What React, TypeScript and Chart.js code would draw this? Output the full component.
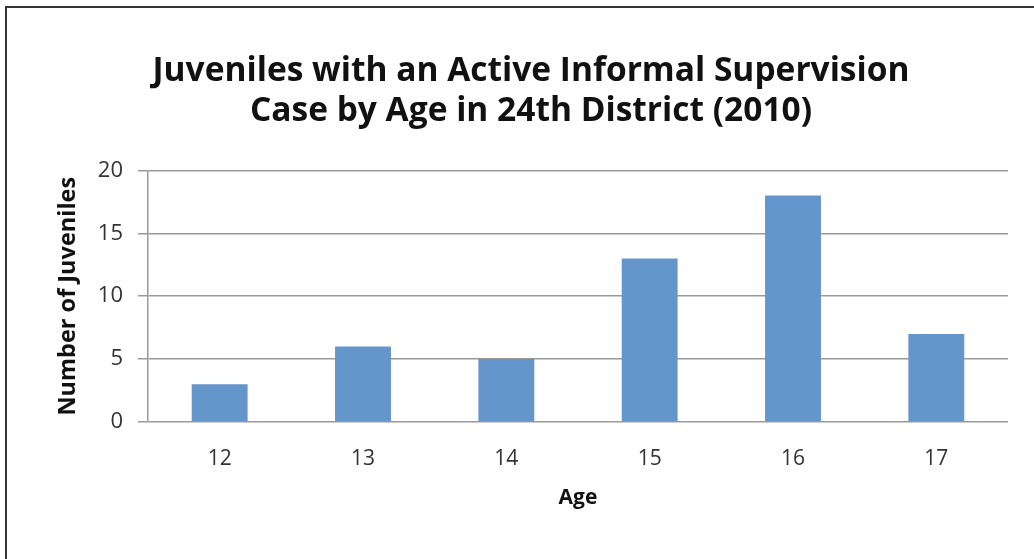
import React, { useEffect, useRef } from "react";
import { Chart, registerables } from "chart.js";

Chart.register(...registerables);

const ages = ["12", "13", "14", "15", "16", "17"];
const juvenileCounts = [3, 6, 5, 13, 18, 7];
const titleLines = [
  "Juveniles with an Active Informal Supervision",
  "Case by Age in 24th District (2010)",
];

const FONT = "'Open Sans', Lato, sans-serif";

export default function App() {
  const canvasRef = useRef<HTMLCanvasElement | null>(null);

  useEffect(() => {
    const canvas = canvasRef.current;
    if (!canvas) return;
    const chart = new Chart(canvas, {
      type: "bar",
      data: {
        labels: ages,
        datasets: [
          {
            label: "Number of Juveniles",
            data: juvenileCounts,
            backgroundColor: "#6496cb",
            borderWidth: 0,
            barPercentage: 0.39,
            categoryPercentage: 1,
          },
        ],
      },
      options: {
        responsive: false,
        animation: false,
        layout: { padding: { left: 54, right: 26, top: 51, bottom: 30 } },
        plugins: {
          legend: { display: false },
          tooltip: { enabled: false },
          title: {
            display: true,
            text: titleLines,
            color: "#111",
            font: { family: FONT, size: 33.5, weight: "bold", lineHeight: 1.2 },
            padding: { top: 0, bottom: 39 },
          },
        },
        scales: {
          x: {
            grid: { display: false, drawTicks: false },
            border: { display: false },
            ticks: {
              color: "#333",
              font: { family: FONT, size: 21 },
              padding: 24,
            },
            title: {
              display: true,
              text: "Age",
              color: "#111",
              font: { family: FONT, size: 21, weight: "bold" },
              padding: { top: 0, bottom: 18 },
            },
            afterFit: (scale: any) => {
              scale.height = 107;
            },
          },
          y: {
            min: 0,
            max: 20,
            ticks: {
              stepSize: 5,
              color: "#333",
              font: { family: FONT, size: 22 },
              padding: 15,
            },
            grid: {
              color: "#9a9a9a",
              lineWidth: 1.5,
              tickLength: 10,
            },
            border: { display: true, color: "#9a9a9a", width: 1.5 },
            title: {
              display: true,
              text: "Number of Juveniles",
              color: "#111",
              font: { family: FONT, size: 23.5, weight: "bold" },
              padding: { top: 0, bottom: 0 },
            },
            afterFit: (scale: any) => {
              scale.width = 94;
            },
          },
        },
      },
    });
    return () => chart.destroy();
  }, []);

  return (
    <div
      style={{
        position: "absolute",
        left: 0,
        top: 0,
        width: 1034,
        height: 559,
        overflow: "hidden",
        background: "#fff",
      }}
    >
      <div
        style={{
          position: "absolute",
          left: 5,
          top: 6,
          width: 1100,
          height: 700,
          borderLeft: "2px solid #333",
          borderTop: "2px solid #333",
        }}
      />
      <canvas
        ref={canvasRef}
        width={1034}
        height={559}
        style={{ position: "absolute", left: 0, top: 0 }}
      />
    </div>
  );
}
